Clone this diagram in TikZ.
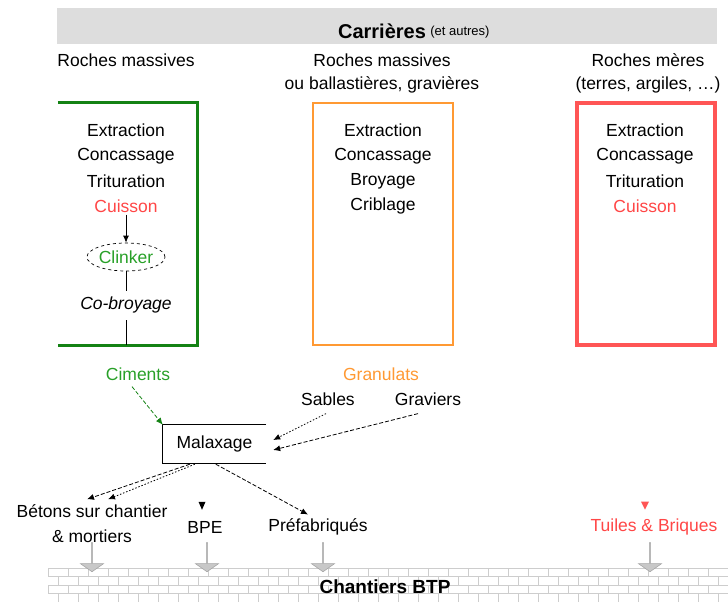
\documentclass[tikz,border=0pt]{standalone}
\usepackage{fontspec}
\setmainfont{Liberation Sans}
\usetikzlibrary{shapes.geometric,shapes.arrows,arrows.meta,calc}
\definecolor{cgreen}{RGB}{20,130,20}
\definecolor{cgreentxt}{RGB}{40,160,40}
\definecolor{corange}{RGB}{255,153,51}
\definecolor{cred}{RGB}{255,85,85}
\definecolor{credtxt}{RGB}{255,70,70}
\definecolor{cband}{RGB}{221,221,221}
\definecolor{cbrick}{RGB}{205,205,205}
\definecolor{cgarrow}{RGB}{200,200,200}
\tikzset{
  txt/.style={inner sep=0pt, font=\fontsize{17.5}{21}\selectfont},
  smalltxt/.style={inner sep=0pt, font=\fontsize{13}{15}\selectfont},
  tip/.style={-{Latex[length=7pt,width=6pt]}},
  dashln/.style={dash pattern=on 4pt off 2pt, line width=0.8pt},
  dotln/.style={dash pattern=on 1.5pt off 1.8pt, line width=0.8pt},
  blockarrow/.style={single arrow, shape border rotate=270, fill=cgarrow, draw=gray!70,
    line width=0.6pt, minimum width=23pt, minimum height=29pt, single arrow head extend=5pt,
    single arrow tip angle=110, inner sep=0pt},
}
\begin{document}
\begin{tikzpicture}[x=1pt,y=-1pt]
\useasboundingbox (0,0) rectangle (728,603);

% top band
\fill[cband] (57,8) rectangle (717,44);
\node[inner sep=0pt, font=\fontsize{20}{24}\selectfont\bfseries] (carr) at (382,31) {Carrières};
\node[smalltxt, anchor=west] (aut) at ([xshift=4pt,yshift=-1pt]carr.east) {(et autres)};

% headings
\node[txt] (h1) at (126,60) {Roches massives};
\node[txt] (h2) at (382,60) {Roches massives};
\node[txt] (h2b) at (382,85) {ou ballastières, gravières};
\node[txt] (h3) at (648,60) {Roches mères};
\node[txt] (h3b) at (648,85) {(terres, argiles, …)};

% boxes
\node[minimum width=139pt, minimum height=242pt, inner sep=0pt] (gbox) at (127.5,224) {};
\draw[cgreen, line width=3pt] (gbox.north west) -- (gbox.north east) -- (gbox.south east) -- (gbox.south west);
\node[draw=corange, line width=2.5pt, minimum width=140pt, minimum height=242pt, inner sep=0pt] (obox) at (383,224) {};
\node[draw=cred, line width=3.5pt, minimum width=138pt, minimum height=242pt, inner sep=0pt] (rbox) at (646,224) {};

% left column
\node[txt] (l1) at (126,130) {Extraction};
\node[txt] (l2) at (126,156) {Concassage};
\node[txt] (l3) at (126,181) {Trituration};
\node[txt, text=credtxt] (l4) at (126,206) {Cuisson};
\node[txt, text=cgreentxt, draw, dashed, ellipse, minimum width=78pt, minimum height=28pt, inner sep=0pt, line width=0.7pt] (clk) at (126,257) {Clinker};
\node[txt, font=\fontsize{17.5}{21}\selectfont\itshape] (cob) at (126,305) {Co-broyage};
\draw[tip, line width=0.8pt] ([yshift=-2pt]l4.south) -- (clk.north);
\draw[line width=0.8pt] (clk.south) -- ([yshift=6pt]cob.north);
\draw[line width=0.8pt] ([yshift=-7pt]cob.south) -- (cob.south |- gbox.south);

% middle column
\node[txt] (m1) at (383,130) {Extraction};
\node[txt] (m2) at (383,156) {Concassage};
\node[txt] (m3) at (383,181) {Broyage};
\node[txt] (m4) at (383,206) {Criblage};

% right column
\node[txt] (r1) at (645,130) {Extraction};
\node[txt] (r2) at (645,156) {Concassage};
\node[txt] (r3) at (645,181) {Trituration};
\node[txt, text=credtxt] (r4) at (645,206) {Cuisson};

% products
\node[txt, text=cgreentxt] (cim) at (138,374) {Ciments};
\node[txt, text=corange] (gran) at (381,374) {Granulats};
\node[txt] (sab) at (328,399) {Sables};
\node[txt] (grav) at (428,399) {Graviers};

% Malaxage
\node[txt, minimum width=103pt, minimum height=38pt] (mal) at (214.5,444) {Malaxage};
\draw[line width=1pt] (mal.north east) -- (mal.north west) -- (mal.south west) -- (mal.south east);

\draw[cgreen, dashln, -{Latex[length=7pt,width=6pt]}] ([xshift=-6pt,yshift=-6pt]cim.south) -- (mal.north west);
\draw[tip, dotln] ([xshift=-2pt,yshift=-8pt]sab.south) -- ($(mal.east)+(7,-4)$);
\draw[tip, dashln] ([xshift=-10pt,yshift=-8pt]grav.south) -- ($(mal.east)+(7,6)$);

% outputs
\node[txt] (bet) at (92,511) {Bétons sur chantier};
\node[txt] (mort) at (92,536) {\& mortiers};
\node[txt] (bpe) at (205,527) {BPE};
\node[txt] (pre) at (318,527) {Préfabriqués};
\node[txt, text=credtxt] (tui) at (654,527) {Tuiles \& Briques};

\draw[tip, dashln] ($(mal.south west)+(27,1)$) -- ($(bet.north)+(-5,-5)$);
\draw[tip, dotln] ($(mal.south west)+(32,1)$) -- ($(bet.north)+(16,-5)$);
\draw[tip, dashln] ($(mal.south west)+(53,1)$) -- ($(pre.north)+(-10,-4)$);
\fill ($(bpe.north)+(-3,-11)$) -- ++(-3.5,-8) -- ++(7,0) -- cycle;
\fill[cred] ($(tui.north)+(-9,-9)$) -- ++(-4,-8) -- ++(8,0) -- cycle;

% brick band
\begin{scope}
\clip (48,568) rectangle (728,603);
\foreach \r in {0,1,2,3} {
  \pgfmathsetmacro{\yy}{568+\r*8.6}
  \draw[cbrick, line width=0.9pt] (48,\yy) -- (728,\yy);
  \pgfmathsetmacro{\off}{mod(\r,2)*10}
  \foreach \k in {0,...,35} {
    \pgfmathsetmacro{\xx}{48+\off+\k*20}
    \draw[cbrick, line width=0.9pt] (\xx,\yy) -- (\xx,\yy+8.6);
  }
}
\end{scope}
\node[inner sep=0pt, font=\fontsize{19}{22}\selectfont\bfseries] (btp) at (385,587) {Chantiers BTP};

% block arrows to the site
\node[blockarrow] (a1) at (92,557) {};
\node[blockarrow] (a2) at (207,557) {};
\node[blockarrow] (a3) at (323,557) {};
\node[blockarrow] (a4) at (650,557) {};
\end{tikzpicture}
\end{document}
